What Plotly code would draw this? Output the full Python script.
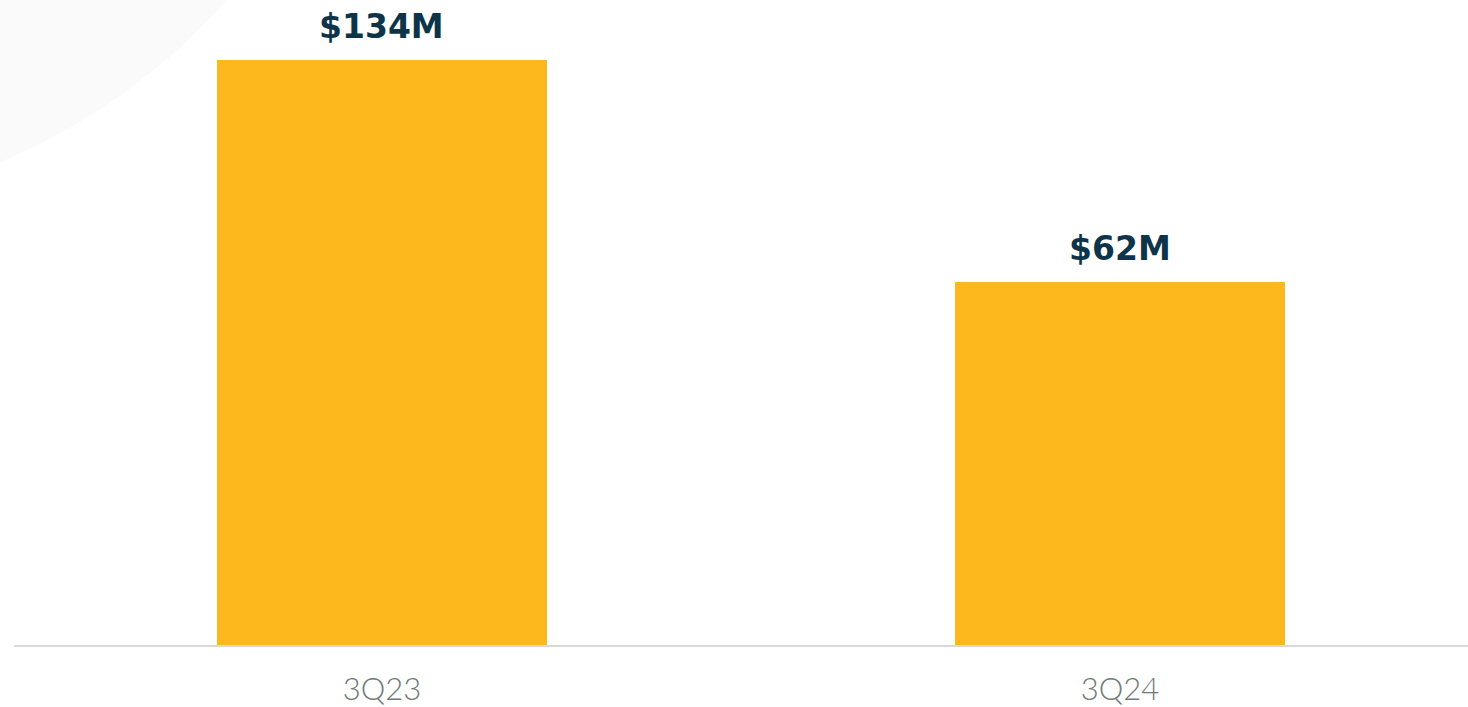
import plotly.graph_objects as go

# Data
categories = ["3Q23", "3Q24"]
bar_heights = [134, 83.2]          # drawn bar lengths (relative)
value_labels = ["$134M", "$62M"]   # printed values

BAR_COLOR = "#FDB81D"
LABEL_COLOR = "#0E3449"
TICK_COLOR = "#6F7A76"

fig = go.Figure()
fig.add_trace(go.Bar(
    x=categories,
    y=bar_heights,
    marker=dict(color=BAR_COLOR, line=dict(width=0)),
    width=0.447,
    hoverinfo="skip",
))

for cat, h, lab in zip(categories, bar_heights, value_labels):
    fig.add_annotation(
        x=cat, y=h, text=f"<b>{lab}</b>", showarrow=False,
        yanchor="bottom", yshift=12,
        font=dict(family="DejaVu Sans", size=33, color=LABEL_COLOR),
    )

# faint decorative circle in the top-left corner
fig.add_shape(
    type="circle", xref="paper", yref="paper",
    x0=-0.6025, x1=0.2531, y0=0.6739, y1=2.597,
    fillcolor="#FAFAFA", line=dict(width=0), layer="below",
)

fig.update_layout(
    width=1468, height=707,
    margin=dict(l=14, r=0, t=0, b=60),
    paper_bgcolor="white", plot_bgcolor="white",
    showlegend=False,
    bargap=0,
    xaxis=dict(
        type="category",
        range=[-0.4986, 1.4715],
        showgrid=False, zeroline=False,
        showline=True, linecolor="#D9D9D9", linewidth=2,
        ticks="", ticklabelstandoff=16,
        tickfont=dict(family="Lato", size=31, color=TICK_COLOR, weight=300),
    ),
    yaxis=dict(
        range=[0, 147.7], visible=False, showgrid=False, zeroline=False,
    ),
)

fig.write_html("out.html")
